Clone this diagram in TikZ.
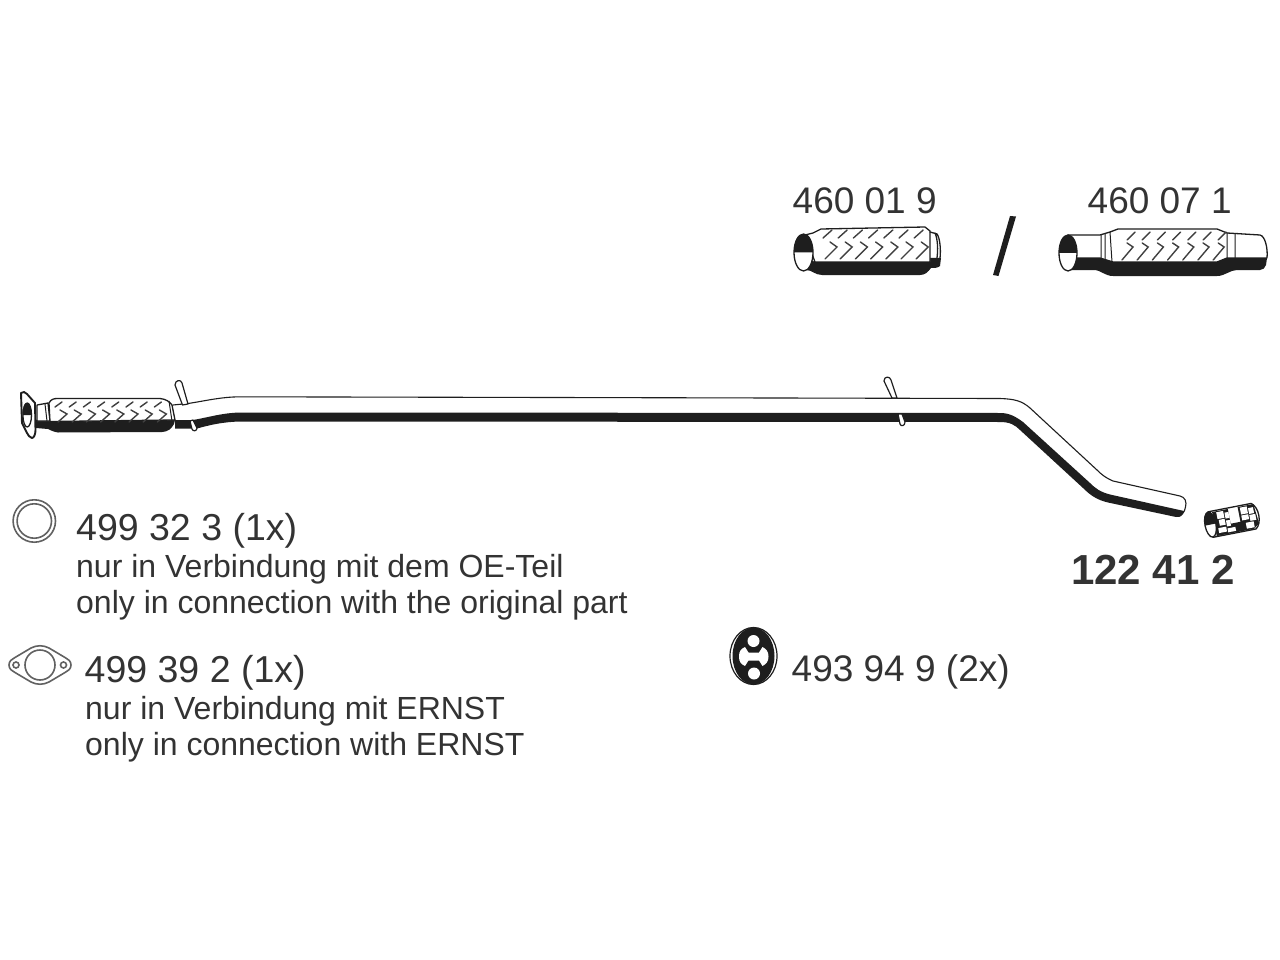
\documentclass[tikz,border=0pt]{standalone}
\usepackage{fontspec}
\setmainfont{Liberation Sans}
\definecolor{ink}{HTML}{333333}
\definecolor{part}{HTML}{1E1E1E}
\tikzset{
 x=1pt,y=-1pt,
 big/.style={anchor=base west,inner sep=0pt,text=ink,font=\fontsize{37}{37}\selectfont},
 wide/.style={anchor=base west,inner sep=0pt,text=ink,font=\fontsize{37.5}{37.5}\selectfont},
 small/.style={anchor=base west,inner sep=0pt,text=ink,font=\fontsize{32}{32}\selectfont},
 bold/.style={anchor=base west,inner sep=0pt,text=ink,font=\bfseries\fontsize{42}{42}\selectfont},
 outl/.style={draw=part,line width=1.3pt,line join=round,line cap=round},
 weave/.style={draw=part!85,line width=1.4pt,line cap=round,line join=miter},
 gray line/.style={draw=black!62,line width=1.6pt}
}
\begin{document}
\begin{tikzpicture}
\useasboundingbox (0,0) rectangle (1280,960);
\fill[white] (0,0) rectangle (1280,960);
% --- main pipe
\fill[part] (175,420) -- (193,420) .. controls (210,417) and (222,413) .. (240,412.5) -- (1000,413) .. controls (1010,413) and (1016,417) .. (1023,422) -- (1090,483) .. controls (1095,488) and (1100,492) .. (1110,494.5) -- (1184,511) -- (1183,514) .. controls (1181,517) and (1178,517.5) .. (1176,517) -- (1108,502.5) .. controls (1097,500) and (1090,495) .. (1083,488) -- (1020,430) .. controls (1015,425) and (1010,422) .. (1000,422) -- (240,421.5) .. controls (222,422) and (210,425) .. (197,428.5) -- (175,428.5) -- cycle;
\draw[outl,line width=1.1pt] (173,405) -- (188,403.5) .. controls (205,401) and (220,397) .. (240,396.8) -- (1000,398.5) .. controls (1015,399) and (1022,401) .. (1030,408) -- (1097,470) .. controls (1102,475) and (1106,478) .. (1113,481) -- (1180,496) .. controls (1185,497) and (1187,502) .. (1185.5,507) .. controls (1185,510) and (1184,512) .. (1183,513);
% pins
\path[fill=white,draw=part,line width=1.2pt,line join=round] (175,385) .. controls (175,380) and (181,379) .. (182,383) -- (188,404) -- (182.5,405) -- cycle;
\path[fill=white,draw=part,line width=1.2pt,line join=round] (190,421) -- (193,420) -- (197,428) .. controls (197,431) and (193,432) .. (192,429) -- cycle;
\path[fill=white,draw=part,line width=1.2pt,line join=round] (884,381) .. controls (884,376) and (890,376) .. (891,380) -- (897,398) -- (892,398) -- cycle;
\path[fill=white,draw=part,line width=1.2pt,line join=round] (898,414) -- (902,414) -- (905,422) .. controls (905,426) and (901,427) .. (900,424) -- cycle;
% flex of main pipe
\fill[part] (36,420) -- (50,420) -- (175,420) -- (174,424) .. controls (172,428) and (168,432) .. (162,432) -- (58,432.5) .. controls (54,432) and (50,430) .. (48,429) -- (36,428) -- cycle;
\draw[outl,fill=white] (37,405) -- (48,403) -- (50,421) -- (37,421) -- cycle;
\draw[line width=1pt,draw=part] (45,404) -- (47,421);
\draw[outl,fill=white] (49,403) .. controls (51,399) and (54,398.5) .. (58,398.5) -- (160,398.5) .. controls (166,399) and (170,402) .. (172,405) -- (175,420) -- (50,421.5) -- cycle;
\draw[line width=1pt,draw=part] (169,401) -- (172,421);
\foreach \i in {0,...,7}{
 \draw[weave] ({55+14.2*\i},407) -- ({62+14.2*\i},402);
 \draw[weave] ({60+14.2*\i},410) -- ({67+14.2*\i},414) -- ({58+14.2*\i},422);
}
% flange
\draw[outl,fill=white,line width=1.9pt] (21,393) .. controls (23,391) and (25,392) .. (27,394) -- (35,403) -- (35.5,430) .. controls (35.5,434) and (34,438) .. (32,438) .. controls (30,438) and (28,435) .. (27,433) -- (22,423) -- cycle;
\fill[part] (23,415) .. controls (23,405) and (25,403) .. (27,403) .. controls (29,403) and (31.5,407) .. (31.5,415) -- cycle;
\draw[outl] (27.2,415) ellipse[x radius=4.3,y radius=12];
% --- 460 01 9
\fill[part] (806,258) -- (815,262) -- (920,262) -- (930,258) -- (941,258) -- (940,266) .. controls (938,268) and (934,268) .. (931,268) .. controls (928,272) and (925,275) .. (920,275) -- (822,275) .. controls (815,275) and (812,270) .. (806,270) -- cycle;
\draw[outl,fill=white] (805,235) -- (813,233) -- (821,229) -- (925,227) -- (930,231) -- (930,262) -- (920,262) -- (815,262) -- cycle;
\draw[outl] (930,232) -- (937,234) .. controls (940,238) and (941,250) .. (940,258) (935,233) .. controls (938,240) and (938,250) .. (937,258);
\foreach \i in {0,...,6}{
 \draw[weave] ({823+15.2*\i},238) -- ({832+15.2*\i},230);
 \draw[weave] ({830+15.2*\i},242) -- ({837+15.2*\i},247) -- ({825+15.2*\i},259);
}
\draw[outl,fill=white] (803.5,252.5) ellipse[x radius=9.5,y radius=18.5];
\fill[part] (794,252.5) .. controls (794,240) and (798,234) .. (803.5,234) .. controls (809,234) and (813,242) .. (813,252.5) -- cycle;
% slash
\fill[part] (1010,216) -- (1016,216.5) -- (998.5,276) -- (993,275) -- cycle;
% --- 460 07 1
\fill[part] (1072,258) -- (1100,258) -- (1113,262) -- (1217,262) -- (1227,258) -- (1267,258) -- (1266,265) .. controls (1265,268) and (1263,270) .. (1260,270) -- (1237,270) .. controls (1230,270) and (1225,276) .. (1217,276) -- (1113,276) .. controls (1105,276) and (1100,270) .. (1095,270) -- (1068,270) -- cycle;
\draw[outl,fill=white] (1068,235) -- (1100,235) -- (1110,232) -- (1118,229) -- (1217,229) -- (1227,233) -- (1260,235) .. controls (1265,236) and (1268,248) .. (1267,258) -- (1227,258) -- (1217,262) -- (1113,262) -- (1100,258) -- (1072,258) -- cycle;
\draw[outl,line width=1pt] (1101,235) -- (1101,258) (1105,234) -- (1105,260) (1110,232) -- (1112,262) (1227,233) -- (1227,258) (1235,234) -- (1235,258);
\foreach \i in {0,...,6}{
 \draw[weave] ({1127+15.2*\i},240) -- ({1135+15.2*\i},232);
 \draw[weave] ({1127+15.2*\i},243) -- ({1133+15.2*\i},247) -- ({1122+15.2*\i},260);
}
\draw[outl,fill=white] (1068,253) ellipse[x radius=9,y radius=18];
\fill[part] (1059,253) .. controls (1059,241) and (1063,235) .. (1068,235) .. controls (1073,235) and (1077,243) .. (1077,253) -- cycle;
% --- clamp
\begin{scope}[shift={(1234,520)},rotate=11]
 \draw[outl,fill=white] (-24,-13) -- (20,-13) .. controls (27,-8) and (27,8) .. (20,13) -- (-24,13);
 \fill[part] (-20,-12) -- (-4,-12) -- (-4,3) -- (6,3) -- (6,-12) -- (22,-12) -- (24,8) -- (18,12.5) -- (-20,12.5) -- cycle;
 \foreach \px/\py/\pw/\ph in {-16/-11/7/7,-8/-9/4/6,-15/-3/6/6,-8/-1/4/6,-17/5/8/5,-8/7/8/4,8/-11/7/7,16/-9/5/6,8/-3/7/5,16/-2/6/6,11/5/8/6}
   \fill[white] (\px,\py) rectangle +(\pw,\ph);
 \draw[outl,fill=white] (-24,0) ellipse[x radius=5.5,y radius=12.7];
 \fill[part] (-29.5,0) .. controls (-29.5,-8) and (-27,-12.7) .. (-24,-12.7) .. controls (-21,-12.7) and (-18.5,-8) .. (-18.5,0) -- cycle;
\end{scope}
% --- accessories
\draw[gray line] (34.3,521) circle[radius=21.2];
\draw[gray line] (34.3,521) circle[radius=17.2];
\draw[gray line] (9,665) .. controls (9,661) and (12,659) .. (15,657.5) -- (31,648) .. controls (37,645) and (43,645) .. (49,648) -- (65,657.5) .. controls (68,659) and (71,661) .. (71,665) .. controls (71,669) and (68,671) .. (65,672.5) -- (49,682) .. controls (43,685) and (37,685) .. (31,682) -- (15,672.5) .. controls (12,671) and (9,669) .. (9,665) -- cycle;
\draw[gray line] (40,665) circle[radius=15];
\draw[gray line] (16,665) circle[radius=3];
\draw[gray line] (63.5,665) circle[radius=3];
% rubber hanger
\draw[part,line width=1.2pt] (753.5,656) ellipse[x radius=23.5,y radius=28.5];
\fill[part] (753.5,656) ellipse[x radius=21,y radius=28.5];
\fill[white] (739,656.5) .. controls (739,651) and (741,649) .. (745,647) -- (748.5,652.5) -- (759,652.5) -- (762.5,647) .. controls (766,649) and (768.5,651) .. (768.5,656.5) .. controls (768.5,662) and (766,664) .. (762.5,666) -- (759,660.5) -- (748.5,660.5) -- (745,666) .. controls (741,664) and (739,662) .. (739,656.5) -- cycle;
\fill[white] (753.5,641) circle[radius=6];
\fill[white] (754,673.5) circle[radius=6];
% --- labels
\node[big] (a1) at (792.5,214) {460 01 9};
\node[big] (a2) at (1087.5,214) {460 07 1};
\node[bold] (num) at (1071,584) {122 41 2};
\node[wide] (r1) at (76,540) {499 32 3 (1x)};
\node[small] (r2) at (76,577) {nur in Verbindung mit dem OE-Teil};
\node[small] (r3) at (76,613) {only in connection with the original part};
\node[wide] (g1) at (84.5,682) {499 39 2 (1x)};
\node[small] (g2) at (85,719) {nur in Verbindung mit ERNST};
\node[small] (g3) at (85,755) {only in connection with ERNST};
\node[big] (h1) at (791.5,681) {493 94 9 (2x)};
\end{tikzpicture}
\end{document}
